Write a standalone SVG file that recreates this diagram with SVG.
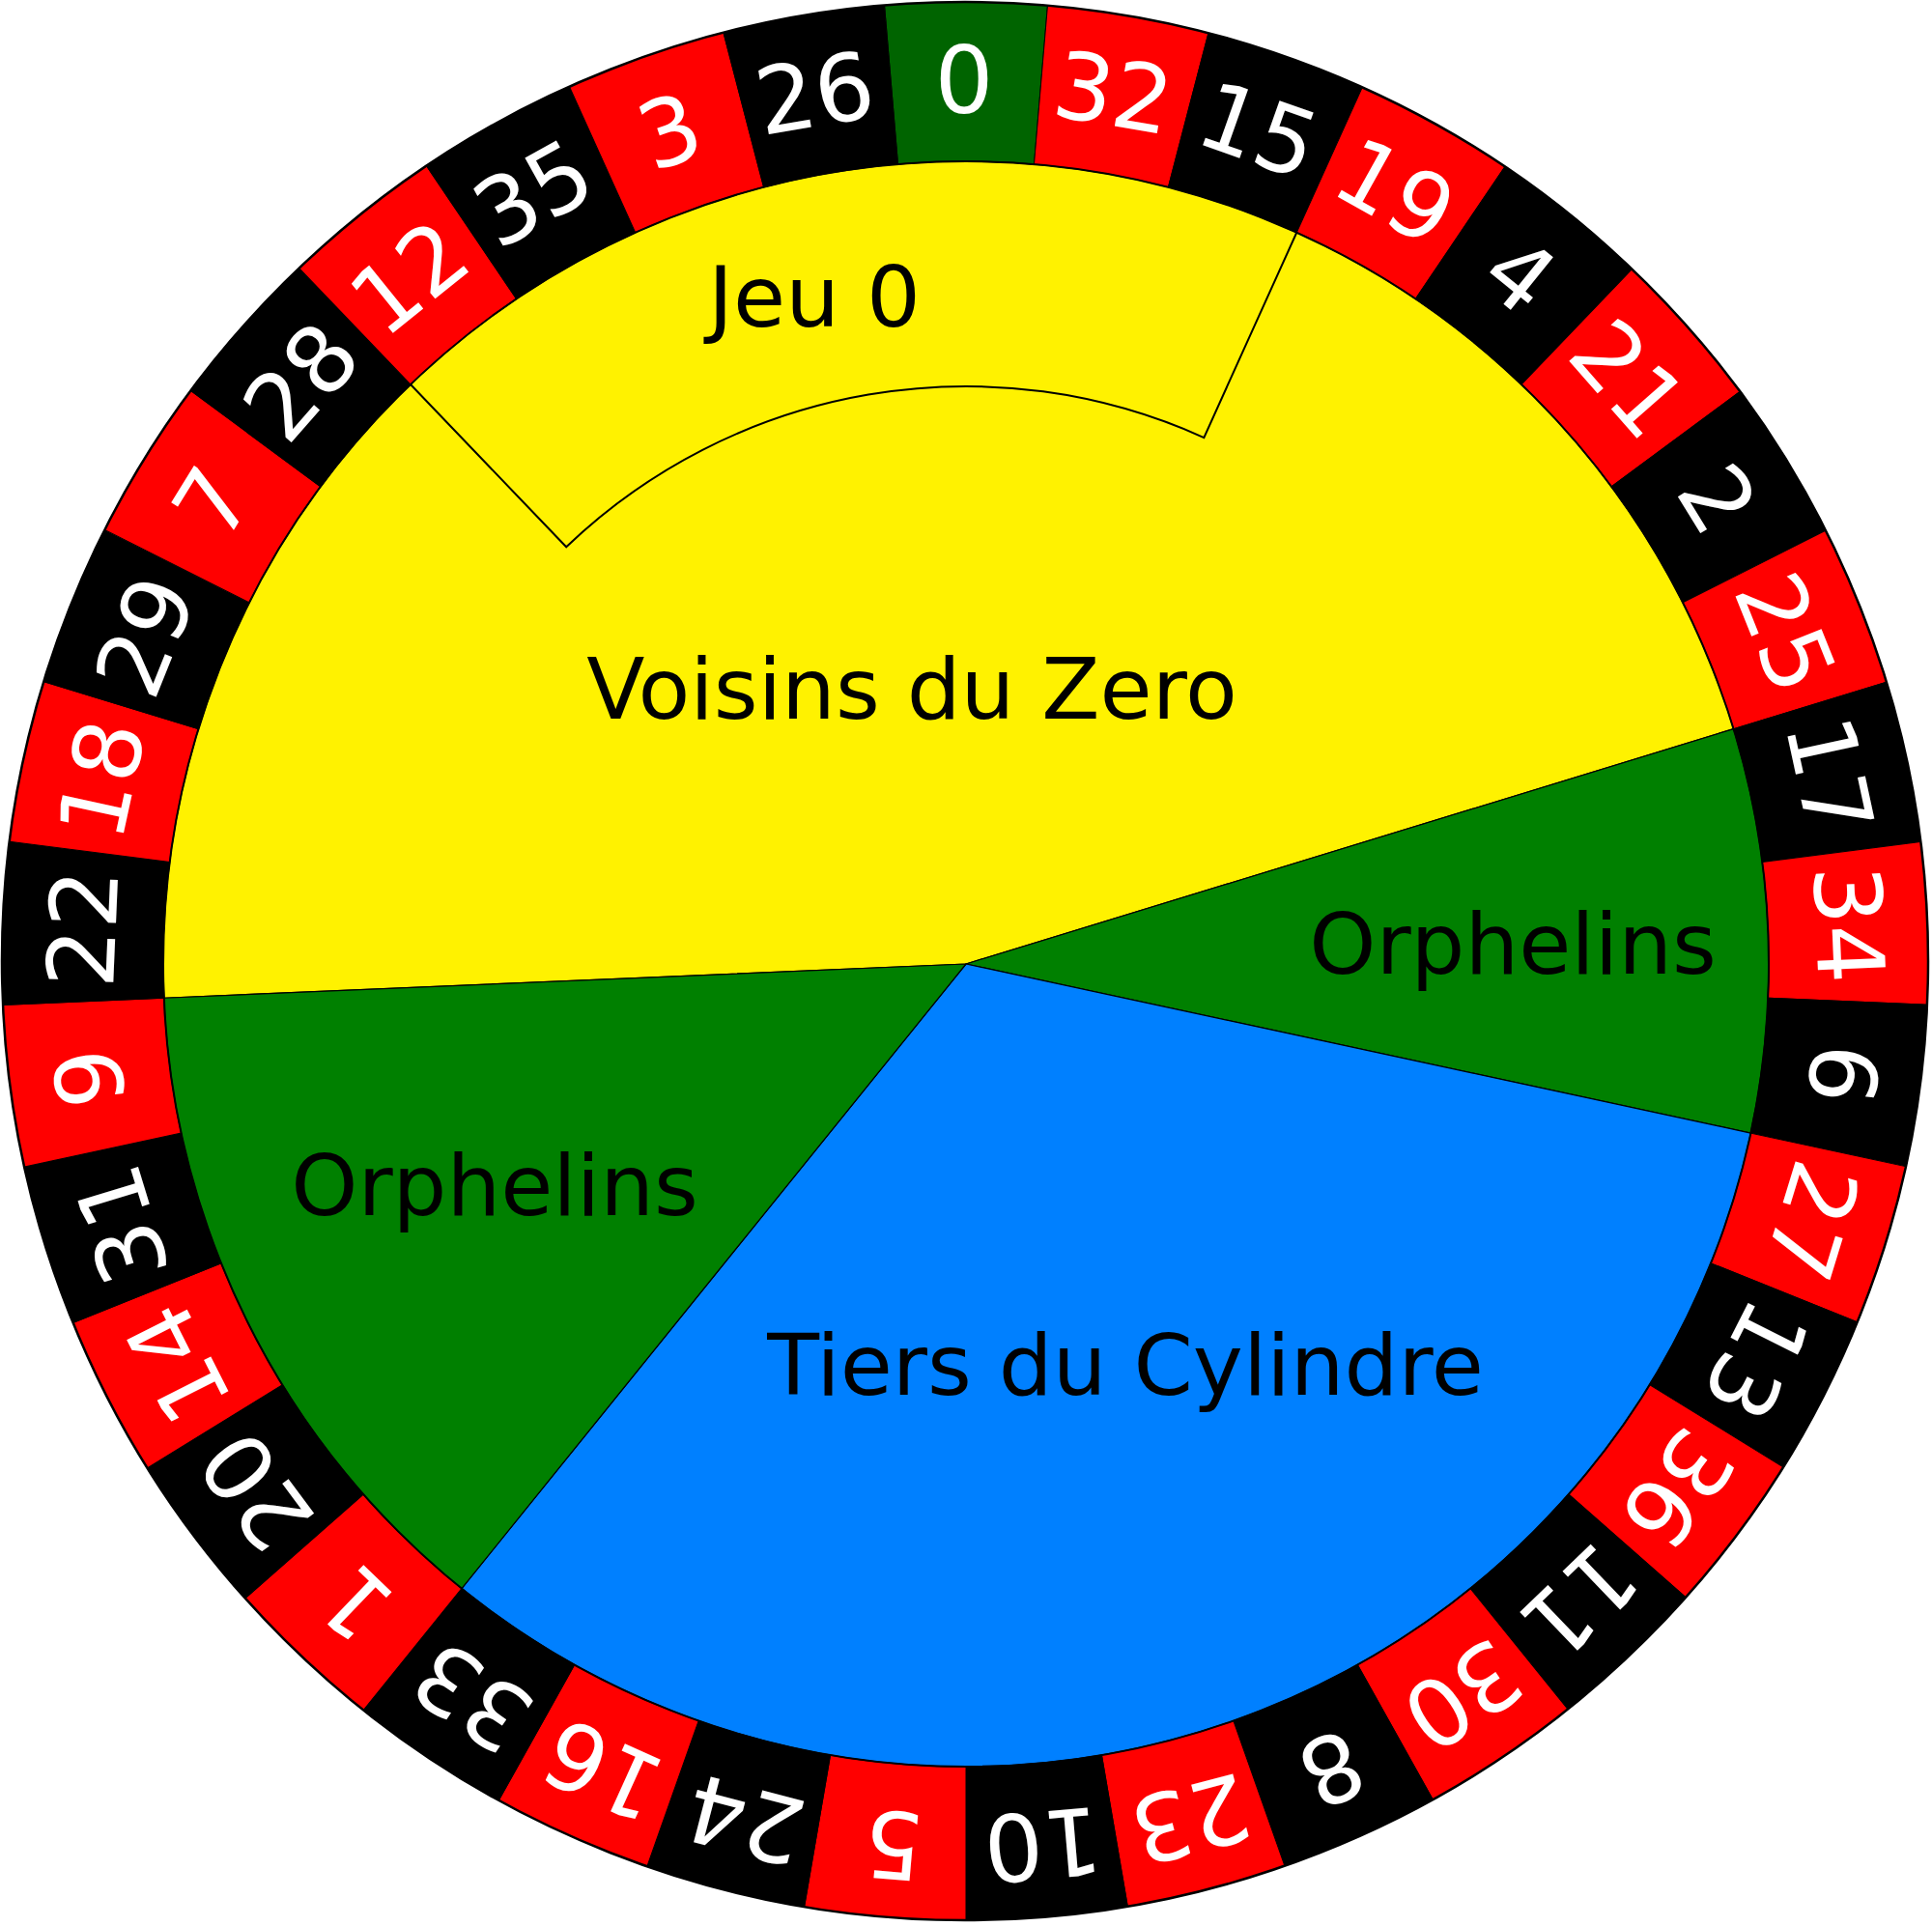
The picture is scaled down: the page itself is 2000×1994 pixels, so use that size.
<svg xmlns="http://www.w3.org/2000/svg" xmlns:xlink="http://www.w3.org/1999/xlink" width="2000" height="1994" viewBox="0 0 2000 1994">
<style>
.r{fill:#ff0000;stroke:#000;stroke-width:1}
.b{fill:#000000;stroke:#000;stroke-width:1}
.g0{fill:#006400;stroke:#000;stroke-width:1}
.num{font-family:"DejaVu Sans","Liberation Sans",sans-serif;font-size:96px;fill:#fff;text-anchor:middle}
.lbl{font-family:"DejaVu Sans","Liberation Sans",sans-serif;font-size:88px;fill:#000;text-anchor:middle}
.sec{stroke:#000;stroke-width:1.2;stroke-linejoin:round}
</style>
<defs>
<path id="w" d="M1000,998 L914.04,-12 L1085.96,-12 Z"/>
<clipPath id="outer"><ellipse cx="999" cy="995" rx="997" ry="993"/></clipPath>
</defs>
<rect width="2000" height="1994" fill="#fff"/>
<g id="wheel" clip-path="url(#outer)">
<g id="pocket-0" transform="rotate(0 1000 998)"><use xlink:href="#w" class="g0"/><text class="num" x="998" y="117">0</text></g>
<g id="pocket-32" transform="rotate(9.7297 1000 998)"><use xlink:href="#w" class="r"/><text class="num" x="998" y="117">32</text></g>
<g id="pocket-15" transform="rotate(19.4595 1000 998)"><use xlink:href="#w" class="b"/><text class="num" x="998" y="117">15</text></g>
<g id="pocket-19" transform="rotate(29.1892 1000 998)"><use xlink:href="#w" class="r"/><text class="num" x="998" y="117">19</text></g>
<g id="pocket-4" transform="rotate(38.9189 1000 998)"><use xlink:href="#w" class="b"/><text class="num" x="998" y="117">4</text></g>
<g id="pocket-21" transform="rotate(48.6486 1000 998)"><use xlink:href="#w" class="r"/><text class="num" x="998" y="117">21</text></g>
<g id="pocket-2" transform="rotate(58.3784 1000 998)"><use xlink:href="#w" class="b"/><text class="num" x="998" y="117">2</text></g>
<g id="pocket-25" transform="rotate(68.1081 1000 998)"><use xlink:href="#w" class="r"/><text class="num" x="998" y="117">25</text></g>
<g id="pocket-17" transform="rotate(77.8378 1000 998)"><use xlink:href="#w" class="b"/><text class="num" x="998" y="117">17</text></g>
<g id="pocket-34" transform="rotate(87.5676 1000 998)"><use xlink:href="#w" class="r"/><text class="num" x="998" y="117">34</text></g>
<g id="pocket-6" transform="rotate(97.2973 1000 998)"><use xlink:href="#w" class="b"/><text class="num" x="998" y="117">6</text></g>
<g id="pocket-27" transform="rotate(107.027 1000 998)"><use xlink:href="#w" class="r"/><text class="num" x="998" y="117">27</text></g>
<g id="pocket-13" transform="rotate(116.7568 1000 998)"><use xlink:href="#w" class="b"/><text class="num" x="998" y="117">13</text></g>
<g id="pocket-36" transform="rotate(126.4865 1000 998)"><use xlink:href="#w" class="r"/><text class="num" x="998" y="117">36</text></g>
<g id="pocket-11" transform="rotate(136.2162 1000 998)"><use xlink:href="#w" class="b"/><text class="num" x="998" y="117">11</text></g>
<g id="pocket-30" transform="rotate(145.9459 1000 998)"><use xlink:href="#w" class="r"/><text class="num" x="998" y="117">30</text></g>
<g id="pocket-8" transform="rotate(155.6757 1000 998)"><use xlink:href="#w" class="b"/><text class="num" x="998" y="117">8</text></g>
<g id="pocket-23" transform="rotate(165.4054 1000 998)"><use xlink:href="#w" class="r"/><text class="num" x="998" y="117">23</text></g>
<g id="pocket-10" transform="rotate(175.1351 1000 998)"><use xlink:href="#w" class="b"/><text class="num" x="998" y="117">10</text></g>
<g id="pocket-5" transform="rotate(184.8649 1000 998)"><use xlink:href="#w" class="r"/><text class="num" x="998" y="117">5</text></g>
<g id="pocket-24" transform="rotate(194.5946 1000 998)"><use xlink:href="#w" class="b"/><text class="num" x="998" y="117">24</text></g>
<g id="pocket-16" transform="rotate(204.3243 1000 998)"><use xlink:href="#w" class="r"/><text class="num" x="998" y="117">16</text></g>
<g id="pocket-33" transform="rotate(214.0541 1000 998)"><use xlink:href="#w" class="b"/><text class="num" x="998" y="117">33</text></g>
<g id="pocket-1" transform="rotate(223.7838 1000 998)"><use xlink:href="#w" class="r"/><text class="num" x="998" y="117">1</text></g>
<g id="pocket-20" transform="rotate(233.5135 1000 998)"><use xlink:href="#w" class="b"/><text class="num" x="998" y="117">20</text></g>
<g id="pocket-14" transform="rotate(243.2432 1000 998)"><use xlink:href="#w" class="r"/><text class="num" x="998" y="117">14</text></g>
<g id="pocket-31" transform="rotate(252.973 1000 998)"><use xlink:href="#w" class="b"/><text class="num" x="998" y="117">31</text></g>
<g id="pocket-9" transform="rotate(262.7027 1000 998)"><use xlink:href="#w" class="r"/><text class="num" x="998" y="117">9</text></g>
<g id="pocket-22" transform="rotate(272.4324 1000 998)"><use xlink:href="#w" class="b"/><text class="num" x="998" y="117">22</text></g>
<g id="pocket-18" transform="rotate(282.1622 1000 998)"><use xlink:href="#w" class="r"/><text class="num" x="998" y="117">18</text></g>
<g id="pocket-29" transform="rotate(291.8919 1000 998)"><use xlink:href="#w" class="b"/><text class="num" x="998" y="117">29</text></g>
<g id="pocket-7" transform="rotate(301.6216 1000 998)"><use xlink:href="#w" class="r"/><text class="num" x="998" y="117">7</text></g>
<g id="pocket-28" transform="rotate(311.3514 1000 998)"><use xlink:href="#w" class="b"/><text class="num" x="998" y="117">28</text></g>
<g id="pocket-12" transform="rotate(321.0811 1000 998)"><use xlink:href="#w" class="r"/><text class="num" x="998" y="117">12</text></g>
<g id="pocket-35" transform="rotate(330.8108 1000 998)"><use xlink:href="#w" class="b"/><text class="num" x="998" y="117">35</text></g>
<g id="pocket-3" transform="rotate(340.5405 1000 998)"><use xlink:href="#w" class="r"/><text class="num" x="998" y="117">3</text></g>
<g id="pocket-26" transform="rotate(350.2703 1000 998)"><use xlink:href="#w" class="b"/><text class="num" x="998" y="117">26</text></g>
</g>
<ellipse id="rim" cx="999" cy="995" rx="997" ry="993" fill="none" stroke="#000" stroke-width="2.5"/>
<g id="voisins">
<path class="sec" fill="#fff200" d="M1000,998 L169.75,1033.27 A831,831 0 0 1 1794.58,754.66 Z"/>
<text class="lbl" x="944" y="744">Voisins du Zero</text>
</g>
<g id="orphelins-right">
<path class="sec" fill="#008000" d="M1000,998 L1794.58,754.66 A831,831 0 0 1 1812.35,1173.07 Z"/>
<text class="lbl" x="1566" y="1008">Orphelins</text>
</g>
<g id="tiers">
<path class="sec" fill="#0080ff" d="M1000,998 L1812.35,1173.07 A831,831 0 0 1 477.95,1644.55 Z"/>
<text class="lbl" x="1165" y="1444">Tiers du Cylindre</text>
</g>
<g id="orphelins-left">
<path class="sec" fill="#008000" d="M1000,998 L477.95,1644.55 A831,831 0 0 1 169.75,1033.27 Z"/>
<text class="lbl" x="512" y="1258">Orphelins</text>
</g>
<circle id="inner-rim" cx="1000" cy="998" r="831" fill="none" stroke="#000" stroke-width="2"/>
<g id="jeu0">
<path d="M424.99,398.05 L586.22,566.27 A598,598 0 0 1 1246.32,453.08 L1342.29,240.76" fill="none" stroke="#000" stroke-width="2" stroke-linejoin="miter"/>
<text class="lbl" x="843" y="338">Jeu 0</text>
</g>
</svg>
